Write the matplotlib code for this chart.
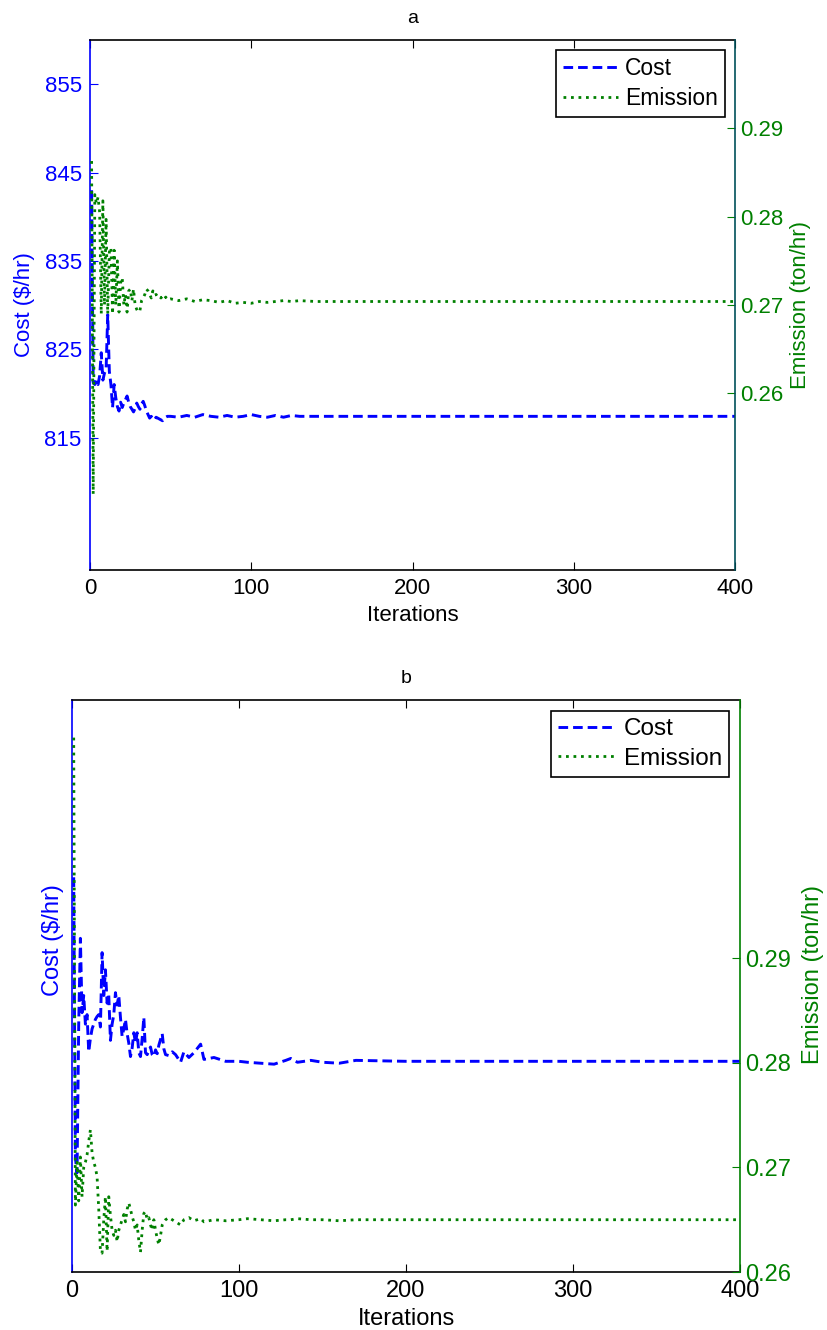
import matplotlib
matplotlib.use("Agg")
import matplotlib.pyplot as plt

plt.rcParams['font.family'] = ['Liberation Sans', 'DejaVu Sans']

BLUE = (0, 0, 1)
GREEN = (0, 0.5, 0)

# ---- case a ----
a_iter = [1, 2, 3, 4, 5, 6, 7, 8, 9, 10, 11, 12, 13, 14, 15, 16, 17, 18, 19, 20,
          21, 22, 23, 24, 25, 26, 27, 28, 29, 30, 31, 32, 33, 34, 35, 36, 37, 38, 39, 40,
          41, 42, 43, 44, 45, 46, 47, 48, 50, 55, 60, 65, 70, 75, 80, 85, 90, 95, 100,
          105, 110, 115, 120, 125, 130, 140, 150, 200, 250, 300, 350, 400]
a_cost = [843.0, 821.2, 821.0, 821.5, 821.0, 822.0, 824.6, 821.5, 822.3, 822.7,
          828.9, 822.5, 821.0, 818.4, 821.0, 819.5, 818.5, 818.0, 819.0, 818.4,
          818.9, 819.3, 819.7, 819.0, 818.5, 818.2, 817.9, 818.3, 818.9, 818.5,
          818.2, 818.8, 819.1, 818.6, 818.0, 817.6, 817.2, 817.4, 817.1, 817.0,
          817.3, 817.2, 817.1, 817.0, 816.9, 817.2, 817.3, 817.4, 817.4, 817.3,
          817.5, 817.3, 817.6, 817.4, 817.3, 817.5, 817.3, 817.4, 817.6,
          817.4, 817.3, 817.5, 817.3, 817.5, 817.4, 817.4, 817.4, 817.4, 817.4,
          817.4, 817.4, 817.4]
a_emis = [0.2863, 0.2486, 0.2825, 0.2815, 0.2822, 0.2805, 0.2690, 0.2818, 0.2700, 0.2797,
          0.2690, 0.2760, 0.2765, 0.2690, 0.2762, 0.2700, 0.2750, 0.2692, 0.2725, 0.2731,
          0.2700, 0.2712, 0.2692, 0.2716, 0.2718, 0.2705, 0.2718, 0.2700, 0.2695, 0.2692,
          0.2694, 0.2705, 0.2708, 0.2712, 0.2718, 0.2716, 0.2712, 0.2708, 0.2716, 0.2711,
          0.2712, 0.2709, 0.2710, 0.2708, 0.2710, 0.2707, 0.2709, 0.2706, 0.2707, 0.2705,
          0.2707, 0.2704, 0.2706, 0.2705, 0.2703, 0.2705, 0.2702, 0.2703, 0.2702,
          0.2704, 0.2703, 0.2704, 0.2705, 0.2704, 0.2705, 0.2704, 0.2704, 0.2704, 0.2704,
          0.2704, 0.2704, 0.2704]

# ---- case b ----
b_iter = [1, 2, 3, 4, 5, 6, 7, 8, 9, 10, 11, 12, 13, 14, 15, 16, 17, 18, 19, 20,
          21, 22, 23, 24, 25, 26, 27, 28, 29, 30, 31, 32, 33, 34, 35, 36, 37, 38, 39, 40,
          41, 42, 43, 44, 45, 46, 47, 48, 49, 50, 51, 52, 53, 54, 55, 56, 58, 60, 62, 65,
          67, 70, 73, 77, 79, 85, 92, 100, 105, 113, 121, 128, 131, 135, 143, 150, 160,
          170, 200, 250, 300, 350, 400]
b_cost = [841.4, 812.0, 810.4, 826.0, 835.0, 827.2, 829.0, 826.0, 827.0, 823.1,
          824.5, 825.5, 826.0, 826.5, 826.8, 827.0, 825.7, 833.5, 829.0, 831.7,
          828.2, 829.0, 824.3, 826.0, 827.0, 829.3, 828.0, 829.0, 826.7, 824.7,
          825.5, 826.5, 825.0, 824.0, 822.6, 823.5, 825.1, 824.0, 825.1, 823.0,
          822.6, 824.5, 826.7, 823.0, 822.8, 823.2, 823.6, 822.8, 822.6, 823.3,
          822.9, 823.8, 824.4, 825.0, 823.4, 822.8, 822.7, 823.1, 822.8, 822.0,
          823.1, 822.5, 823.0, 823.9, 822.3, 822.5, 822.1, 822.1, 822.0, 821.9,
          821.8, 822.2, 822.4, 822.0, 822.2, 822.0, 821.9,
          822.2, 822.1, 822.1, 822.1, 822.1, 822.1]
b_emis = [0.3111, 0.2664, 0.2705, 0.2668, 0.2710, 0.2672, 0.2700, 0.2705, 0.2712, 0.2725,
          0.2736, 0.2714, 0.2705, 0.2700, 0.2691, 0.2660, 0.2620, 0.2618, 0.2650, 0.2672,
          0.2620, 0.2672, 0.2654, 0.2640, 0.2635, 0.2640, 0.2629, 0.2640, 0.2645, 0.2650,
          0.2655, 0.2648, 0.2660, 0.2666, 0.2660, 0.2653, 0.2648, 0.2640, 0.2645, 0.2630,
          0.2619, 0.2640, 0.2656, 0.2658, 0.2650, 0.2652, 0.2645, 0.2640, 0.2650, 0.2640,
          0.2632, 0.2626, 0.2635, 0.2645, 0.2648, 0.2650, 0.2652, 0.2650, 0.2648, 0.2645,
          0.2650, 0.2652, 0.2649, 0.2651, 0.2648, 0.2650, 0.2649, 0.2650, 0.2651, 0.2650,
          0.2649, 0.2650, 0.2650, 0.2651, 0.2650, 0.2650, 0.2649,
          0.2650, 0.2650, 0.2650, 0.2650, 0.2650, 0.2650]

x_ticks = [0, 100, 200, 300, 400]
a_cost_ticks = [815, 825, 835, 845, 855]
emis_ticks = [0.26, 0.27, 0.28, 0.29]


def panel(rect, title, it, cost, emis, cost_lim, emis_lim, cost_ticks,
          right_spine, fs, cost_lab, emis_lab):
    ax = fig.add_axes(rect)
    ax2 = ax.twinx()
    l1, = ax.plot(it, cost, color=BLUE, lw=2.1, linestyle=(0, (3.3, 1.7)),
                  dash_capstyle='butt', label='Cost')
    l2, = ax2.plot(it, emis, color=GREEN, lw=2.0, linestyle=(0, (1, 1.7)),
                   dash_capstyle='butt', label='Emission')

    ax.set_xlim(0, 400)
    ax.set_xticks(x_ticks)
    ax.set_ylim(*cost_lim)
    ax.set_yticks(cost_ticks)
    ax2.set_ylim(*emis_lim)
    ax2.set_yticks(emis_ticks)
    ax2.set_yticklabels(['%.2f' % v for v in emis_ticks])

    ax.tick_params(axis='x', direction='in', top=True, length=6, labelsize=fs, pad=6)
    ax.tick_params(axis='y', direction='in', colors=BLUE, length=6, labelsize=fs, pad=6)
    ax2.tick_params(axis='y', direction='in', colors=GREEN, length=6, labelsize=fs, pad=4)

    ax.spines['left'].set_color(BLUE)
    ax.spines['right'].set_visible(False)
    for s in ['top', 'bottom', 'left']:
        ax.spines[s].set_linewidth(1.2)
    for s in ['top', 'bottom', 'left']:
        ax2.spines[s].set_visible(False)
    ax2.spines['right'].set_color(right_spine)
    ax2.spines['right'].set_linewidth(1.2)

    ax.set_xlabel('Iterations', fontsize=fs, labelpad=4)
    ax.set_ylabel('Cost ($/hr)', fontsize=fs, color=BLUE)
    ax.yaxis.set_label_coords(*cost_lab)
    ax2.set_ylabel('Emission (ton/hr)', fontsize=fs, color=GREEN)
    ax2.yaxis.set_label_coords(*emis_lab)
    ax.set_title(title, fontsize=14, pad=12)

    leg = ax2.legend([l1, l2], ['Cost', 'Emission'], loc='upper right', fontsize=fs + 0.5,
                     fancybox=False, framealpha=1, edgecolor='black', handlelength=2.4,
                     borderpad=0.3, labelspacing=0.3, handletextpad=0.3,
                     borderaxespad=0.45)
    leg.get_frame().set_linewidth(1.2)
    return ax, ax2


fig = plt.figure(figsize=(8.27, 13.30), dpi=100)

panel([0.1088, 0.5714, 0.7800, 0.3985], 'a', a_iter, a_cost, a_emis,
      (800, 860), (0.24, 0.30), a_cost_ticks, '#00505a', 16,
      (-0.085, 0.5), (1.085, 0.5))

panel([0.0871, 0.0436, 0.8077, 0.4301], 'b', b_iter, b_cost, b_emis,
      (800, 860), (0.26, 0.3147), [], GREEN, 17,
      (-0.012, 0.58), (1.093, 0.52))

fig.savefig('out.png', dpi=100)
